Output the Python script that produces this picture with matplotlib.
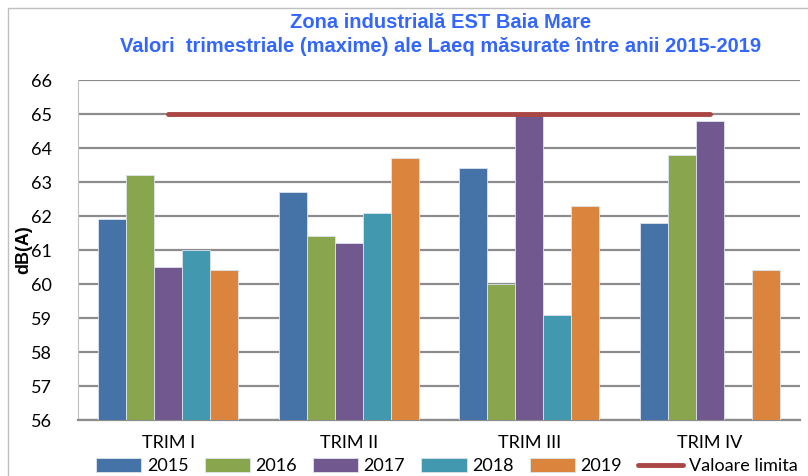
import numpy as np
import matplotlib
matplotlib.use("Agg")
from matplotlib import pyplot as plt
from matplotlib.patches import Rectangle

categories = ["TRIM I", "TRIM II", "TRIM III", "TRIM IV"]
years = ["2015", "2016", "2017", "2018", "2019"]
values = {
    "2015": [61.9, 62.7, 63.4, 61.8],
    "2016": [63.2, 61.4, 60.0, 63.8],
    "2017": [60.5, 61.2, 65.0, 64.8],
    "2018": [61.0, 62.1, 59.1, np.nan],
    "2019": [60.4, 63.7, 62.3, 60.4],
}
limit = [65, 65, 65, 65]
yticks = list(range(56, 67))

colors = ["#4572A7", "#89A54E", "#71588F", "#4198AF", "#DB843D"]
limit_color = "#AA4643"
title_color = "#3366FF"

fig = plt.figure(figsize=(8.08, 4.76), dpi=100)
W, H = 808, 476
ax = fig.add_axes([78 / W, 1 - 420 / H, 722 / W, 340 / H])

x = np.arange(len(categories))
bw = 0.155
for i, (yr, c) in enumerate(zip(years, colors)):
    vals = np.array(values[yr])
    ax.bar(x + (i - 2) * bw, vals - 56, bw, bottom=56, color=c,
           edgecolor="#dde4ee", linewidth=0.6, label=yr, zorder=3)

ax.plot(x, limit, color=limit_color, linewidth=3.5, solid_capstyle="round",
        label="Valoare limita", zorder=4)

ax.set_xlim(-0.5, 3.5)
ax.set_ylim(56, 66)
ax.set_yticks(yticks)
ax.set_xticks(x)
ax.set_xticklabels(categories)
ax.yaxis.grid(True, color="#8c8c8c", linewidth=1.6, zorder=0)
for s in ["top", "right"]:
    ax.spines[s].set_visible(False)
ax.spines["left"].set_color("#bfbfbf")
ax.spines["left"].set_linewidth(0.8)
ax.spines["bottom"].set_color("#8c8c8c")
ax.spines["bottom"].set_linewidth(1.6)
ax.tick_params(axis="y", length=0, labelsize=13, pad=19)
ax.tick_params(axis="x", length=0, labelsize=13, pad=11)
for lab in ax.get_xticklabels() + ax.get_yticklabels():
    lab.set_fontfamily("Lato")

ax.set_ylabel("dB(A)", fontsize=13, fontweight="bold", family="Liberation Sans")
ax.yaxis.set_label_coords(-0.064, 0.5)

fig.text(0.545, 1 - 22 / H, "Zona industrială EST Baia Mare", ha="center", va="center",
         color=title_color, fontsize=14.5, fontweight="bold", family="Liberation Sans")
fig.text(0.545, 1 - 47 / H, "Valori  trimestriale (maxime) ale Laeq măsurate între anii 2015-2019",
         ha="center", va="center", color=title_color, fontsize=14.5, fontweight="bold",
         family="Liberation Sans")

fig.add_artist(Rectangle((8 / W, -0.1), 1.2, 1.1 - 8 / H, transform=fig.transFigure,
                         fill=False, edgecolor="#bfbfbf", linewidth=1))

handles, labels = ax.get_legend_handles_labels()
handles = handles[1:] + handles[:1]
labels = labels[1:] + labels[:1]
fig.legend(handles, labels, loc="center", bbox_to_anchor=(0.553, 1 - 466 / H), ncol=6,
           frameon=False, prop={"family": "Lato", "size": 13}, handlelength=2.5,
           handleheight=0.8, columnspacing=0.9, handletextpad=0.3)

fig.savefig("out.png", dpi=100)
